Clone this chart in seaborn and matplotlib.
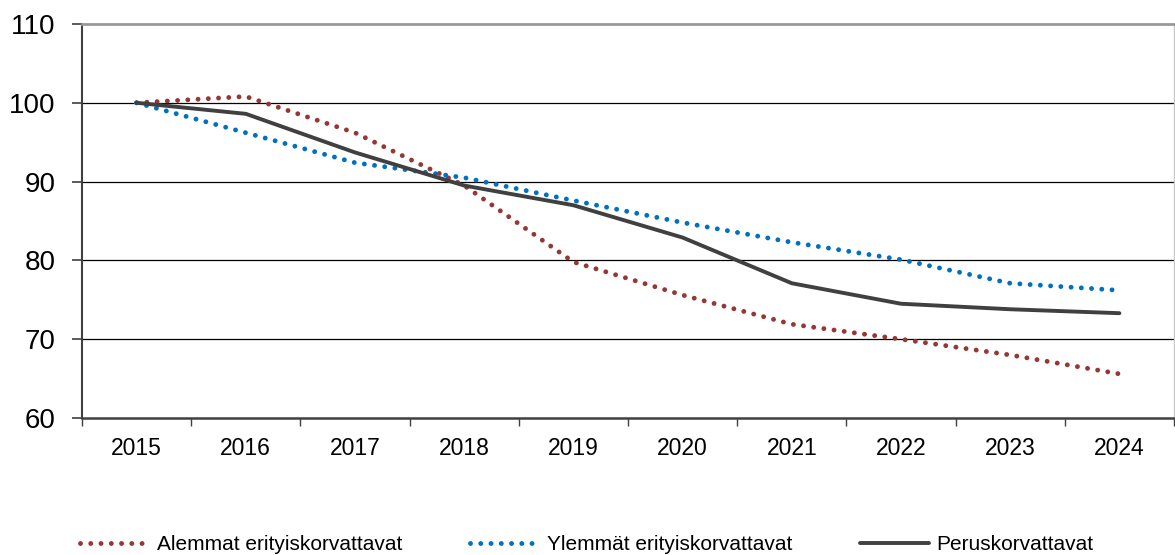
import matplotlib
matplotlib.use("Agg")
import matplotlib.pyplot as plt
from matplotlib.lines import Line2D
import seaborn as sns
import pandas as pd

years = ["2015", "2016", "2017", "2018", "2019", "2020", "2021", "2022", "2023", "2024"]
alemmat = [100.0, 100.8, 96.2, 89.5, 79.8, 75.6, 71.9, 70.0, 68.0, 65.6]
ylemmat = [100.0, 96.2, 92.4, 90.5, 87.6, 84.8, 82.3, 80.1, 77.1, 76.2]
perus = [100.0, 98.6, 93.7, 89.5, 87.0, 82.9, 77.1, 74.5, 73.8, 73.3]
labels = ["Alemmat erityiskorvattavat", "Ylemmät erityiskorvattavat", "Peruskorvattavat"]
colors = ["#953735", "#0070C0", "#404040"]
yticks = [60, 70, 80, 90, 100, 110]

sns.set_theme(style="white")
plt.rcParams["font.family"] = ["Liberation Sans", "DejaVu Sans"]
plt.rcParams["text.color"] = "black"
plt.rcParams["xtick.color"] = "black"
plt.rcParams["ytick.color"] = "black"

fig = plt.figure(figsize=(11.75, 5.55), dpi=100)
ax = fig.add_axes([82 / 1175, (555 - 418) / 555, (1174 - 82) / 1175, (418 - 24) / 555])

pos = list(range(len(years)))
series = [alemmat, ylemmat, perus]
dotted = (0, (0.01, 2.1))
styles = [dict(lw=3.5, ls=dotted, dash_capstyle="round"),
          dict(lw=3.5, ls=dotted, dash_capstyle="round"),
          dict(lw=2.8, ls="-", solid_capstyle="round")]

for vals, lab, col, st in zip(series, labels, colors, styles):
    df = pd.DataFrame({"x": pos, "y": vals})
    sns.lineplot(data=df, x="x", y="y", ax=ax, color=col, zorder=3, **st)

ax.set_xlim(-0.5, len(years) - 0.5)
ax.set_ylim(60, 110)
ax.set_yticks(yticks)
ax.set_yticklabels([str(v) for v in yticks], fontsize=20)
ax.set_xticks(pos)
ax.set_xticklabels(years, fontsize=16.5)
ax.set_xticks([p - 0.5 for p in pos] + [len(years) - 0.5], minor=True)
ax.tick_params(axis="x", which="major", length=0, pad=14, labelcolor="black")
ax.tick_params(axis="x", which="minor", length=6, width=1, color="#404040", direction="out", bottom=True)
ax.tick_params(axis="y", length=7, width=1.2, color="#404040", direction="out", pad=12, left=True,
               labelcolor="black")
ax.set_xlabel("")
ax.set_ylabel("")

for v in [70, 80, 90, 100]:
    ax.axhline(v, color="black", lw=0.9, zorder=1)

ax.spines["top"].set_color("#999999")
ax.spines["top"].set_linewidth(2.0)
ax.spines["right"].set_color("#c8c8c8")
ax.spines["right"].set_linewidth(1.0)
ax.spines["left"].set_color("#404040")
ax.spines["left"].set_linewidth(1.5)
ax.spines["bottom"].set_color("#404040")
ax.spines["bottom"].set_linewidth(1.8)

anchors = [80 / 1175, 470 / 1175, 860 / 1175]
for lab, col, st, xa in zip(labels, colors, styles, anchors):
    h = Line2D([], [], color=col, **st)
    fig.legend([h], [lab], loc="center left", bbox_to_anchor=(xa, 10 / 555),
               frameon=False, fontsize=15, handlelength=3.3, handletextpad=0.38,
               borderaxespad=0, borderpad=0)

fig.savefig("out.png", dpi=100)
